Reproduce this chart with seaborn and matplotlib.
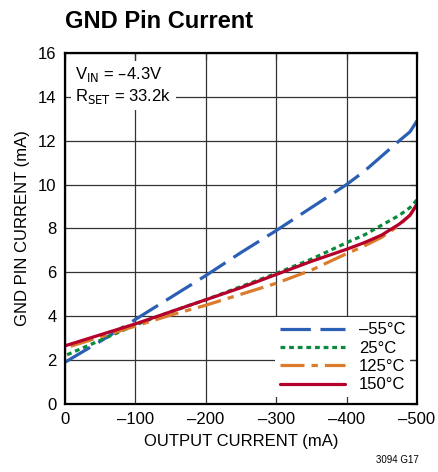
import numpy as np
import pandas as pd
import seaborn as sns
import matplotlib.pyplot as plt

# values (output current in mA, gnd pin current in mA)
iout = [0, -50, -100, -150, -200, -250, -300, -350, -400, -425, -450, -475, -490, -500]
i_m55 = [1.9, 2.85, 3.85, 4.85, 5.85, 6.9, 7.9, 8.95, 10.0, 10.6, 11.3, 12.0, 12.4, 12.9]
i_25 = [2.2, 2.9, 3.6, 4.2, 4.75, 5.35, 5.95, 6.6, 7.35, 7.7, 8.15, 8.6, 8.95, 9.3]
i_125 = [2.55, 3.05, 3.55, 4.05, 4.5, 5.0, 5.5, 6.1, 6.85, 7.2, 7.6, 8.15, 8.6, 9.1]
i_150 = [2.65, 3.15, 3.65, 4.2, 4.75, 5.3, 5.9, 6.5, 7.05, 7.35, 7.7, 8.2, 8.6, 9.1]

temps = ["\u201355\u00b0C", "25\u00b0C", "125\u00b0C", "150\u00b0C"]
colors = ["#2b5fb4", "#0b8a3e", "#dc7b2c", "#b4002b"]
dashes = [(9.5, 3), (1.5, 1.2), (7.5, 2.2, 2, 2.2), ()]

df = pd.DataFrame({
    "iout": iout * 4,
    "ignd": i_m55 + i_25 + i_125 + i_150,
    "temp": sum([[t] * len(iout) for t in temps], []),
})

sns.set_style("white")
plt.rcParams['font.family'] = ['Liberation Sans', 'DejaVu Sans']
plt.rcParams['text.color'] = 'black'
plt.rcParams['axes.labelcolor'] = 'black'
plt.rcParams['xtick.color'] = 'black'
plt.rcParams['ytick.color'] = 'black'

fig = plt.figure(figsize=(4.38, 4.72), dpi=100)
ax = fig.add_axes([0.148, 0.144, 0.804, 0.744])

for t, c, d in zip(temps, colors, dashes):
    sub = df[df["temp"] == t]
    sns.lineplot(data=sub, x="iout", y="ignd", ax=ax, color=c, lw=2.3,
                 label=t, zorder=3)
    ln = ax.get_lines()[-1]
    if d:
        ln.set_dashes(d)
        ln.set_dash_capstyle("butt")

ax.set_xlim(0, -500)
ax.set_ylim(0, 16)
ax.set_xticks([0, -100, -200, -300, -400, -500])
ax.set_xticklabels(["0", "\u2013100", "\u2013200", "\u2013300", "\u2013400", "\u2013500"])
ax.set_yticks(range(0, 17, 2))
ax.grid(True, color="#333333", lw=0.9)
ax.tick_params(axis="both", labelsize=12, direction="in", length=5, width=0.9,
               right=True, top=True, color="#333333", pad=6)
for s in ax.spines.values():
    s.set_color("black")
    s.set_linewidth(1.6)
    s.set_zorder(5)

ax.set_xlabel("OUTPUT CURRENT (mA)", fontsize=12, labelpad=5)
ax.set_ylabel("GND PIN CURRENT (mA)", fontsize=12, labelpad=6)

ax.text(0.03, 0.965, "V$_{\\mathrm{IN}}$ = \u20134.3V\nR$_{\\mathrm{SET}}$ = 33.2k",
        transform=ax.transAxes, ha="left", va="top", fontsize=12, linespacing=1.2,
        zorder=4, bbox=dict(facecolor="white", edgecolor="none", pad=3))

leg = ax.legend(loc="lower right", fontsize=12, frameon=True, fancybox=False,
                handlelength=3.9, handletextpad=0.8, labelspacing=0.2,
                borderpad=0.3, borderaxespad=0.4)
leg.get_frame().set_edgecolor("none")
leg.get_frame().set_facecolor("white")
leg.get_frame().set_alpha(1)
leg.set_zorder(4)

fig.text(0.148, 0.955, "GND Pin Current", fontsize=17, fontweight="bold",
         ha="left", va="center")
fig.text(0.955, 0.015, "3094 G17", fontsize=7, ha="right", va="bottom")

fig.savefig("out.png", dpi=100)
